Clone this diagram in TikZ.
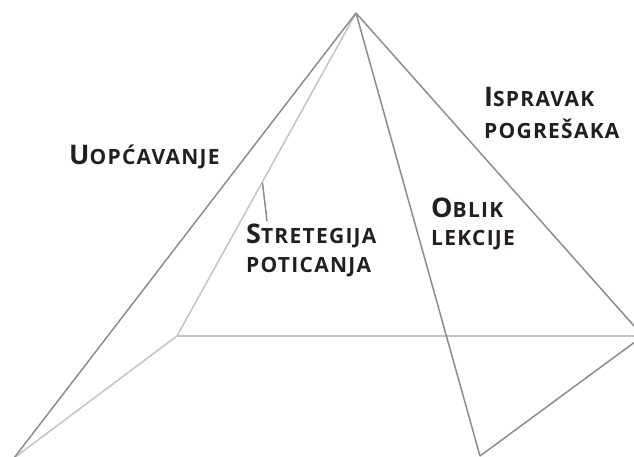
\documentclass[tikz,border=0pt]{standalone}
\usepackage{fontspec}
\setmainfont{Open Sans}
\definecolor{darkline}{HTML}{8C8C8E}
\definecolor{lightline}{HTML}{C4C4C6}
\definecolor{txt}{HTML}{231F20}
\newcommand\bigsc[1]{{\fontsize{27}{27}\selectfont #1}}
\newcommand\smsc[1]{{\fontsize{21}{21}\selectfont #1}}
\tikzset{
  dk/.style={draw=darkline, line width=1.5pt},
  lt/.style={draw=lightline, line width=1.5pt},
  lbl/.style={anchor=base west, inner sep=0pt, text=txt, font=\bfseries\addfontfeatures{LetterSpace=6}},
}
\begin{document}
\begin{tikzpicture}[x=1pt,y=-1pt]
\useasboundingbox (0,0) rectangle (634,457);
\clip (0,0) rectangle (634,457);
\coordinate (apex) at (356,13);
\coordinate (fl) at (14,458);
\coordinate (fr) at (480,456);
\coordinate (br) at (643,336);
\coordinate (bl) at (177,336);
% hidden (back) edges
\draw[lt] (apex) -- (bl);
\draw[lt] (bl) -- (fl);
\draw[lt] (bl) -- (br);
% visible edges
\draw[dk] (apex) -- (fl);
\draw[dk] (apex) -- (fr);
\draw[dk] (apex) -- (br);
\draw[dk] (br) -- (fr);
% labels
\node[lbl] (uop) at (69,165) {\bigsc{U}\smsc{OPĆAVANJE}};
\node[lbl] (isp1) at (484,107) {\bigsc{I}\smsc{SPRAVAK}};
\node[lbl] (isp2) at (484,139) {\smsc{POGREŠAKA}};
\node[lbl] (obl1) at (431,217) {\bigsc{O}\smsc{BLIK}};
\node[lbl] (obl2) at (431,245) {\smsc{LEKCIJE}};
\node[lbl] (str1) at (246,243) {\bigsc{S}\smsc{TRETEGIJA}};
\node[lbl] (str2) at (246,272) {\smsc{POTICANJA}};
% callout
\coordinate (ctop) at (262.5,183);
\coordinate (cbot) at (267,221);
\draw[draw=darkline, line width=1.5pt] (ctop) -- (cbot);
\end{tikzpicture}
\end{document}
